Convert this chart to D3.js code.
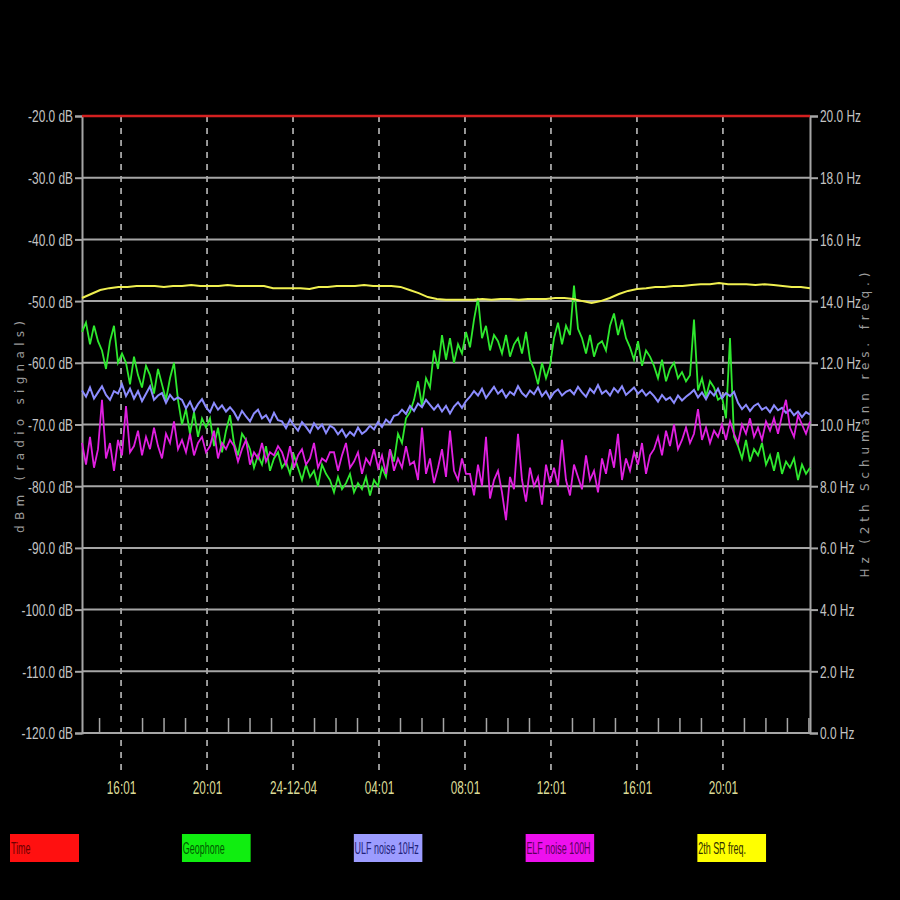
<!DOCTYPE html>
<html><head><meta charset="utf-8">
<script src="https://cdn.jsdelivr.net/npm/d3@7"></script>
<style>html,body{margin:0;padding:0;background:#000;} svg{display:block;}</style>
</head><body>
<script>
// ---------- data ----------
const startTime = "2004-12-23T14:12";
const endTime = "2004-12-25T00:04";
const dbTicks = [-20, -30, -40, -50, -60, -70, -80, -90, -100, -110, -120];
const hzTicks = [20, 18, 16, 14, 12, 10, 8, 6, 4, 2, 0];
const majorTimes = ["2004-12-23T16:01", "2004-12-23T20:01", "2004-12-24T00:01", "2004-12-24T04:01",
  "2004-12-24T08:01", "2004-12-24T12:01", "2004-12-24T16:01", "2004-12-24T20:01"];
const legendLabels = ["Time", "Geophone", "ULF noise 10Hz", "ELF noise 100H", "2th SR freq."];
const leftTitle = "dBm (radio signals)";
const rightTitle = "Hz (2th Schumann res. freq.)";

const timeLine = [-20, -20];

const geophone = [
  -55, -53.5, -57, -54, -56.5,
  -58, -61, -56.5, -54, -60, -58.5,
  -60, -63.5, -59, -62, -64, -60.5,
  -62, -65, -61, -63.5, -66, -62.5, -60,
  -66, -70, -67.5, -71.5, -68, -72, -69, -70.5,
  -69, -73.5, -70.5, -74.5, -71, -68.5, -73, -75, -71.5, -72.5,
  -74, -77, -75, -76.5, -73.5, -77.5, -75.5, -74.5, -77, -76, -78, -75,
  -77, -79, -76.5, -78.5, -77.5, -80, -76.5, -78,
  -79, -81, -78.5, -80.5, -79.5, -78, -81, -79.5, -80.5, -78.5, -81.5, -79, -80,
  -77, -78.5, -74, -76, -71.5, -73, -69, -68,
  -66, -63, -67, -62.5, -64,
  -58, -61, -55.5, -59.5, -56, -60, -57, -58.5,
  -55, -57.5, -53, -49.5, -56, -54, -58, -55.5,
  -56.5, -58.5, -55.5, -59, -57, -56, -58.5, -55, -59.5,
  -61, -63.5, -60, -62.5, -60.5,
  -56, -53.5, -57, -54, -55.5, -47.5, -54.5,
  -56, -58.5, -55.5, -59, -57, -56.5, -58,
  -54, -52, -55.5, -53, -56,
  -57.5, -59.5, -56.5, -60.5, -58, -59,
  -60.5, -62.5, -59.5, -63, -61, -60, -62.5, -61.5, -63,
  -62, -53, -64.5, -62.5, -65.5, -63, -64, -66,
  -65.5, -69, -56, -72,
  -73.5, -75.5, -72.5, -76, -74, -75, -73, -76.5,
  -75, -77.5, -74.5, -78, -76, -77, -75.5, -79, -76.5, -78, -77
];

const ulfNoise = [
  -64.5, -65.5, -64, -65.8, -64.8, -63.8, -65.2, -66, -64.6, -65, -63.5, -65.4, -64.2,
  -65.8, -64.6, -66.2, -65, -63.8, -66, -65.3, -64.9, -66.5, -65.2, -66, -65.6,
  -66, -67.4, -66.3, -67.8, -66.7, -65.9, -67.2, -68, -66.5, -67.6, -66.9, -67.9, -67.2,
  -68, -69.2, -67.8, -68.7, -69.5, -68.2, -67.6, -69, -68.5, -69.6, -68.1, -69.3,
  -69.5, -70.6, -69.2, -70.2, -71, -69.6, -70.4, -71.3, -69.8, -70.7, -70, -71.4, -70.2,
  -70.6, -71.6, -70.8, -72, -71.2, -71.8, -70.5, -71.5,
  -71, -70.2, -70.8, -69.6, -70.4, -69.2, -69.8, -68.6,
  -68.4, -67.6, -68.3, -67, -67.8, -66.6, -67.2, -66, -66.8,
  -67.6, -66.8, -67.9, -67, -68.2, -67.1, -66.4, -67.3, -66.2,
  -65.5, -64.6, -65.3, -64.2, -65.7, -64.8, -63.9, -65, -64.4, -65.6, -64.7, -65.2, -63.8,
  -64.9, -65.5, -64.5, -65.1, -64, -65.4, -64.6, -65.8, -64.8, -64.3, -65.3, -64.7,
  -64.4, -65.1, -63.9, -64.8, -65.5, -64.2, -64.9, -63.6, -65, -64.5, -65.3, -64.1, -64.8,
  -63.8, -65.2, -64.6, -64, -65, -64.4, -65.3, -64.7,
  -65.4, -66.3, -65.2, -66, -65.6, -66.5, -65.3, -66.1, -65.5,
  -65, -64.4, -65.6, -64.8, -65.9, -64.6, -65.3, -64.2, -65.7, -64.9, -65.4, -64.7,
  -66.5, -67.5, -66.8, -67.8, -67, -66.6, -67.6, -67.2, -68, -66.9, -67.7, -67.3, -68.1,
  -67.6, -68.5, -67.9, -68.8, -68, -68.4
];

const elfNoise = [
  -73, -76.5, -72, -77, -74, -66, -75.5, -73, -77.5, -72.5, -75, -67, -74.5,
  -73.5, -71, -75, -72, -74, -70.5, -73.5, -75.5, -71.5, -73, -69.5, -74,
  -72.5, -74.5, -71.5, -75, -73, -72, -74.5, -73.5, -71, -75.5, -73, -74, -72.5,
  -73.5, -76, -74, -72.5, -76.5, -74.5, -75.5, -73, -76, -74.5, -75, -73.5,
  -74.5, -76.5, -73.5, -77, -75, -74, -76.5, -75.5, -73, -77, -75.5, -76, -74.5,
  -74.5, -77.5, -75, -73, -77, -76, -74.5, -78, -75.5, -76.5, -74, -77,
  -75, -78, -74, -77.5, -75.5, -77, -73.5, -76.5,
  -76, -79, -70.5, -78, -75.5, -79.5, -77, -74, -78.5, -71, -77.5, -79, -75.5, -78,
  -78, -81.5, -76.5, -80, -72, -82, -79, -77.5, -81, -85.5, -78.5, -80.5, -71.5, -79, -82.5,
  -77, -80, -78.5, -83, -76.5, -79.5,
  -77, -80, -72.5, -79, -81.5, -76.5, -78.5, -80.5, -75, -79, -77.5, -81,
  -75.5, -78, -74, -77, -71.5, -79, -75.5, -77.5, -74.5, -76.5, -73, -78, -75,
  -74, -72, -75, -71, -73.5, -70, -74, -72.5, -70.5, -73, -71.5, -67.5, -72.5, -70.5, -73, -71, -72,
  -70, -72.5, -69.5, -71.5, -73, -70, -71.5, -69, -72, -70.5, -72.5, -69.5, -71,
  -69, -71.5, -68.5, -66, -70.5, -72, -68.5, -70, -71.5, -69.5
];

const srFreq = [
  14.10, 14.23, 14.36, 14.42, 14.46, 14.46, 14.49, 14.49, 14.49, 14.46,
  14.49, 14.49, 14.52, 14.49, 14.49, 14.49, 14.52, 14.49, 14.49, 14.49,
  14.49, 14.42, 14.42, 14.42, 14.42, 14.39, 14.46, 14.46, 14.49, 14.49,
  14.49, 14.52, 14.49, 14.49, 14.49, 14.46, 14.36, 14.26, 14.13, 14.07,
  14.04, 14.04, 14.04, 14.04, 14.07, 14.04, 14.07, 14.07, 14.04, 14.07,
  14.07, 14.07, 14.10, 14.10, 14.07, 14.00, 13.94, 14.00, 14.10, 14.23,
  14.33, 14.39, 14.42, 14.46, 14.46, 14.49, 14.49, 14.52, 14.55, 14.55,
  14.59, 14.55, 14.55, 14.55, 14.52, 14.55, 14.52, 14.49, 14.46, 14.46, 14.42
];

// ---------- drawing ----------
const W = 900, H = 900;
const parse = d3.timeParse("%Y-%m-%dT%H:%M");
const t0 = parse(startTime), t1 = parse(endTime);

const svg = d3.select("body").append("svg").attr("width", W).attr("height", H)
  .style("background", "#000");

const x = d3.scaleTime().domain([t0, t1]).range([82, 810]);
const yDb = d3.scaleLinear().domain([-120, -20]).range([733, 116]);
const yHz = d3.scaleLinear().domain([0, 20]).range([733, 116]);

const gridColor = "#a6a6a6";
const labelColor = "#c4c4c4";
const narrowFont = "'Liberation Sans Narrow','Liberation Sans',Arial,sans-serif";

// vertical dashed lines at major times
const majors = majorTimes.map(parse);
svg.append("g").selectAll("line").data(majors).join("line")
  .attr("x1", d => x(d)).attr("x2", d => x(d))
  .attr("y1", yDb(-20)).attr("y2", 770)
  .attr("stroke", "#c8c8c8").attr("stroke-width", 1.5)
  .attr("stroke-dasharray", "6,6");

// horizontal gridlines
svg.append("g").selectAll("line").data(dbTicks.filter(d => d !== -20)).join("line")
  .attr("x1", 82).attr("x2", 810)
  .attr("y1", d => yDb(d)).attr("y2", d => yDb(d))
  .attr("stroke", gridColor).attr("stroke-width", 2);

// hourly minor ticks
const hours = d3.timeHour.range(t0, t1).map(d => d3.timeMinute.offset(d, 1))
  .filter(d => d > t0 && d < t1 && !majors.some(m => +m === +d));
svg.append("g").selectAll("line").data(hours).join("line")
  .attr("x1", d => x(d)).attr("x2", d => x(d))
  .attr("y1", yDb(-120) - 15).attr("y2", yDb(-120))
  .attr("stroke", gridColor).attr("stroke-width", 1.5);

// left axis
const leftAxis = svg.append("g").attr("transform", "translate(82,0)")
  .call(d3.axisLeft(yDb).tickValues(dbTicks).tickSize(7).tickFormat(d => d.toFixed(1) + " dB"));
leftAxis.select(".domain").attr("stroke", gridColor).attr("stroke-width", 2);
leftAxis.selectAll(".tick line").attr("stroke", gridColor).attr("stroke-width", 2);
leftAxis.selectAll(".tick text")
  .attr("x", 0).attr("dy", "0.35em")
  .attr("transform", "translate(-9,0) scale(0.7,1)")
  .attr("fill", labelColor)
  .style("font-family", narrowFont)
  .style("font-size", "17px");

// right axis
const rightAxis = svg.append("g").attr("transform", "translate(810,0)")
  .call(d3.axisRight(yHz).tickValues(hzTicks).tickSize(8).tickFormat(d => d.toFixed(1) + " Hz"));
rightAxis.select(".domain").attr("stroke", gridColor).attr("stroke-width", 2);
rightAxis.selectAll(".tick line").attr("stroke", gridColor).attr("stroke-width", 2);
rightAxis.selectAll(".tick text")
  .attr("x", 0).attr("dy", "0.35em")
  .attr("transform", "translate(10,0) scale(0.7,1)")
  .attr("fill", labelColor)
  .style("font-family", narrowFont)
  .style("font-size", "17px");

// bottom axis labels
const dateFmt = d3.timeFormat("%d-%m-%y"), hourFmt = d3.timeFormat("%H:%M");
const bottomAxis = svg.append("g").attr("transform", "translate(0,733)")
  .call(d3.axisBottom(x).tickValues(majors).tickSize(0)
    .tickFormat(d => d.getHours() === 0 ? dateFmt(d) : hourFmt(d)));
bottomAxis.select(".domain").remove();
bottomAxis.selectAll(".tick text")
  .attr("y", 0).attr("dy", 0)
  .attr("transform", "translate(0,61) scale(0.62,1)")
  .attr("fill", "#dcdc98")
  .style("font-family", narrowFont)
  .style("font-size", "19px");

// axis titles
svg.append("text").text(leftTitle)
  .attr("transform", "translate(24,427) rotate(-90)")
  .attr("text-anchor", "middle")
  .attr("textLength", 212).attr("lengthAdjust", "spacing")
  .attr("fill", "#9c9c9c")
  .style("font-family", "'DejaVu Sans',sans-serif").style("font-size", "12px");
svg.append("text").text(rightTitle)
  .attr("transform", "translate(869,425) rotate(-90)")
  .attr("text-anchor", "middle")
  .attr("textLength", 305).attr("lengthAdjust", "spacing")
  .attr("fill", "#9c9c9c")
  .style("font-family", "'DejaVu Sans',sans-serif").style("font-size", "12px");

// series
function series(values) {
  const n = values.length;
  return values.map((v, i) => ({ t: new Date(+t0 + (t1 - t0) * i / (n - 1)), v }));
}
const lineDb = d3.line().x(d => x(d.t)).y(d => yDb(d.v));
const lineHz = d3.line().x(d => x(d.t)).y(d => yHz(d.v));

const seriesColors = ["#d42020", "#2ee82e", "#8c8cff", "#e020e0", "#f0f050"];

svg.append("path").datum(series(timeLine)).attr("d", lineDb)
  .attr("fill", "none").attr("stroke", seriesColors[0]).attr("stroke-width", 2.5);
svg.append("path").datum(series(geophone)).attr("d", lineDb)
  .attr("fill", "none").attr("stroke", seriesColors[1]).attr("stroke-width", 1.8);
svg.append("path").datum(series(ulfNoise)).attr("d", lineDb)
  .attr("fill", "none").attr("stroke", seriesColors[2]).attr("stroke-width", 2);
svg.append("path").datum(series(elfNoise)).attr("d", lineDb)
  .attr("fill", "none").attr("stroke", seriesColors[3]).attr("stroke-width", 1.8);
svg.append("path").datum(series(srFreq)).attr("d", lineHz)
  .attr("fill", "none").attr("stroke", seriesColors[4]).attr("stroke-width", 2);

// legend
const boxColors = ["#ff1010", "#10ee10", "#9c9cff", "#ee10ee", "#ffff00"];
const legendText = ["#6a0000", "#005a00", "#22227a", "#5a005a", "#303000"];
const defs = svg.append("defs");
defs.append("clipPath").attr("id", "legclip")
  .append("rect").attr("width", 69).attr("height", 28);
const lg = svg.append("g").selectAll("g").data(legendLabels).join("g")
  .attr("transform", (d, i) => `translate(${10 + i * 171.8},834)`)
  .attr("clip-path", "url(#legclip)");
lg.append("rect").attr("width", 69).attr("height", 28)
  .attr("fill", (d, i) => boxColors[i]);
lg.append("text").text(d => d)
  .attr("transform", "translate(1,20) scale(0.56,1)")
  .attr("fill", (d, i) => legendText[i])
  .style("font-family", narrowFont)
  .style("font-size", "16px");
</script>
</body></html>
